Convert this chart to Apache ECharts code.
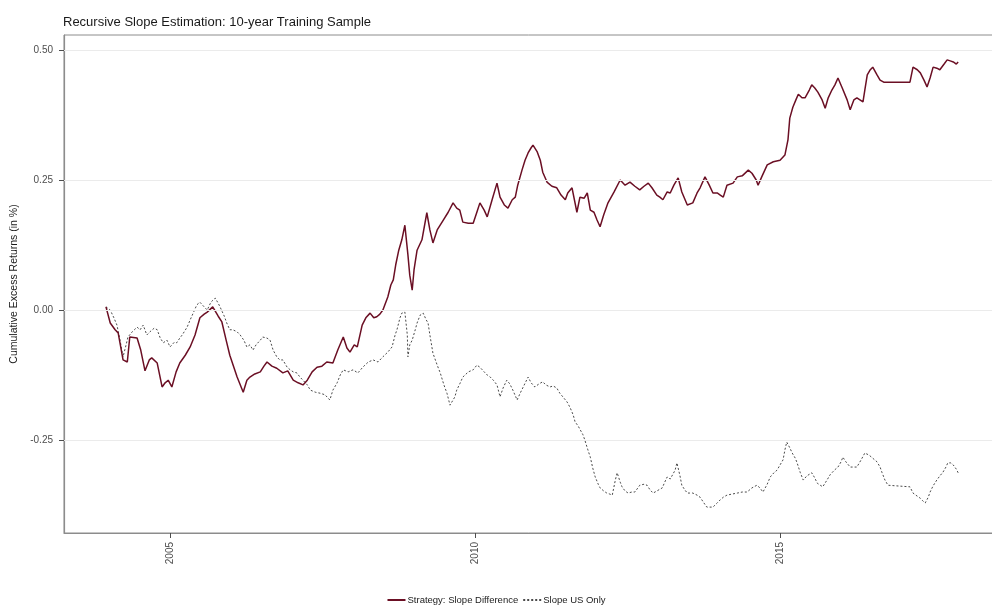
<!DOCTYPE html>
<html>
<head>
<meta charset="utf-8">
<script src="https://cdn.jsdelivr.net/npm/echarts@6/dist/echarts.min.js"></script>
<style>
  html, body { margin: 0; padding: 0; background: #ffffff; overflow: hidden; }
  #chart { width: 992px; height: 608px; }
</style>
</head>
<body>
<div id="chart"></div>
<script>
// Cumulative excess returns of the recursive slope strategies (decimal years, returns in %)
const strategyYears = [
  2003.95, 2004.02, 2004.10, 2004.15, 2004.23, 2004.30, 2004.34, 2004.46, 2004.52, 2004.59,
  2004.66, 2004.70, 2004.79, 2004.87, 2004.92, 2004.97, 2005.03, 2005.10, 2005.16, 2005.25,
  2005.33, 2005.41, 2005.49, 2005.56, 2005.61, 2005.70, 2005.79, 2005.85, 2005.92, 2005.98,
  2006.10, 2006.20, 2006.26, 2006.31, 2006.39, 2006.48, 2006.54, 2006.59, 2006.67, 2006.75,
  2006.85, 2006.93, 2007.02, 2007.10, 2007.18, 2007.25, 2007.33, 2007.41, 2007.49, 2007.57,
  2007.67, 2007.75, 2007.84, 2007.90, 2007.95, 2008.02, 2008.07, 2008.15, 2008.21, 2008.28,
  2008.34, 2008.39, 2008.44, 2008.49, 2008.57, 2008.62, 2008.66, 2008.70, 2008.75, 2008.80,
  2008.85, 2008.90, 2008.93, 2008.97, 2009.00, 2009.05, 2009.13, 2009.21, 2009.26, 2009.31,
  2009.38, 2009.48, 2009.56, 2009.64, 2009.70, 2009.75, 2009.80, 2009.89, 2009.97, 2010.03,
  2010.08, 2010.15, 2010.20, 2010.28, 2010.36, 2010.41, 2010.48, 2010.54, 2010.61, 2010.66,
  2010.70, 2010.77, 2010.82, 2010.87, 2010.92, 2010.95, 2011.02, 2011.07, 2011.11, 2011.18,
  2011.26, 2011.34, 2011.41, 2011.48, 2011.52, 2011.59, 2011.67, 2011.72, 2011.79, 2011.84,
  2011.89, 2011.95, 2012.00, 2012.05, 2012.11, 2012.18, 2012.28, 2012.38, 2012.46, 2012.54,
  2012.62, 2012.70, 2012.77, 2012.84, 2012.90, 2012.98, 2013.03, 2013.08, 2013.15, 2013.20,
  2013.26, 2013.33, 2013.39, 2013.48, 2013.57, 2013.64, 2013.69, 2013.77, 2013.84, 2013.90,
  2013.97, 2014.02, 2014.07, 2014.13, 2014.23, 2014.30, 2014.38, 2014.48, 2014.54, 2014.61,
  2014.64, 2014.70, 2014.79, 2014.89, 2015.00, 2015.08, 2015.13, 2015.16, 2015.21, 2015.26,
  2015.30, 2015.36, 2015.41, 2015.48, 2015.52, 2015.57, 2015.62, 2015.69, 2015.74, 2015.79,
  2015.85, 2015.90, 2015.95, 2016.02, 2016.10, 2016.15, 2016.21, 2016.26, 2016.31, 2016.36,
  2016.39, 2016.43, 2016.48, 2016.52, 2016.59, 2016.64, 2016.70, 2016.75, 2017.13, 2017.18,
  2017.25, 2017.30, 2017.36, 2017.41, 2017.46, 2017.51, 2017.57, 2017.62, 2017.69, 2017.74,
  2017.79, 2017.84, 2017.89, 2017.92
];
const strategyValues = [
  0.006, -0.025, -0.038, -0.044, -0.096, -0.100, -0.052, -0.054, -0.077, -0.117,
  -0.096, -0.092, -0.102, -0.148, -0.140, -0.135, -0.148, -0.119, -0.102, -0.087,
  -0.071, -0.048, -0.015, -0.008, -0.004, 0.006, -0.012, -0.023, -0.058, -0.087,
  -0.129, -0.158, -0.135, -0.129, -0.123, -0.119, -0.108, -0.100, -0.108, -0.112,
  -0.121, -0.117, -0.135, -0.140, -0.144, -0.135, -0.119, -0.110, -0.108, -0.100,
  -0.102, -0.077, -0.052, -0.073, -0.081, -0.067, -0.071, -0.029, -0.015, -0.006,
  -0.015, -0.013, -0.008, 0.000, 0.025, 0.048, 0.058, 0.087, 0.115, 0.135,
  0.163, 0.106, 0.067, 0.038, 0.077, 0.115, 0.135, 0.187, 0.154, 0.129,
  0.154, 0.173, 0.188, 0.206, 0.196, 0.192, 0.169, 0.167, 0.167, 0.188,
  0.206, 0.192, 0.179, 0.212, 0.244, 0.217, 0.202, 0.196, 0.212, 0.217,
  0.240, 0.269, 0.288, 0.302, 0.312, 0.317, 0.304, 0.288, 0.265, 0.246,
  0.238, 0.235, 0.221, 0.212, 0.225, 0.235, 0.188, 0.217, 0.215, 0.225,
  0.192, 0.188, 0.173, 0.160, 0.183, 0.206, 0.227, 0.250, 0.240, 0.246,
  0.238, 0.231, 0.238, 0.244, 0.235, 0.221, 0.217, 0.212, 0.227, 0.225,
  0.240, 0.254, 0.227, 0.202, 0.206, 0.225, 0.235, 0.256, 0.240, 0.225,
  0.225, 0.221, 0.217, 0.240, 0.244, 0.256, 0.258, 0.269, 0.263, 0.250,
  0.240, 0.256, 0.279, 0.285, 0.288, 0.298, 0.327, 0.369, 0.390, 0.404,
  0.415, 0.408, 0.408, 0.423, 0.433, 0.427, 0.419, 0.404, 0.388, 0.408,
  0.423, 0.433, 0.446, 0.427, 0.404, 0.385, 0.404, 0.408, 0.404, 0.400,
  0.423, 0.452, 0.462, 0.467, 0.452, 0.442, 0.438, 0.438, 0.438, 0.467,
  0.462, 0.456, 0.442, 0.429, 0.446, 0.467, 0.465, 0.462, 0.473, 0.481,
  0.479, 0.477, 0.473, 0.477
];

const usOnlyYears = [
  2003.95, 2004.02, 2004.08, 2004.13, 2004.18, 2004.23, 2004.28, 2004.31, 2004.38, 2004.46,
  2004.51, 2004.56, 2004.62, 2004.67, 2004.74, 2004.79, 2004.84, 2004.89, 2004.95, 2005.00,
  2005.07, 2005.11, 2005.16, 2005.20, 2005.28, 2005.33, 2005.38, 2005.44, 2005.49, 2005.56,
  2005.61, 2005.67, 2005.74, 2005.79, 2005.82, 2005.89, 2005.93, 2005.98, 2006.03, 2006.10,
  2006.15, 2006.21, 2006.26, 2006.31, 2006.36, 2006.41, 2006.48, 2006.52, 2006.59, 2006.64,
  2006.69, 2006.75, 2006.80, 2006.85, 2006.92, 2006.97, 2007.02, 2007.08, 2007.13, 2007.18,
  2007.25, 2007.30, 2007.38, 2007.46, 2007.54, 2007.62, 2007.67, 2007.74, 2007.79, 2007.84,
  2007.92, 2008.00, 2008.08, 2008.16, 2008.25, 2008.33, 2008.41, 2008.49, 2008.57, 2008.64,
  2008.69, 2008.72, 2008.77, 2008.80, 2008.85, 2008.89, 2008.90, 2008.93, 2008.97, 2009.02,
  2009.05, 2009.10, 2009.15, 2009.20, 2009.23, 2009.26, 2009.31, 2009.38, 2009.43, 2009.49,
  2009.54, 2009.59, 2009.62, 2009.67, 2009.70, 2009.75, 2009.80, 2009.89, 2009.97, 2010.03,
  2010.08, 2010.15, 2010.20, 2010.25, 2010.30, 2010.36, 2010.41, 2010.46, 2010.52, 2010.57,
  2010.62, 2010.69, 2010.74, 2010.79, 2010.87, 2010.92, 2010.98, 2011.05, 2011.11, 2011.16,
  2011.23, 2011.28, 2011.34, 2011.39, 2011.44, 2011.51, 2011.56, 2011.61, 2011.64, 2011.69,
  2011.72, 2011.77, 2011.80, 2011.85, 2011.89, 2011.93, 2011.97, 2012.02, 2012.05, 2012.11,
  2012.16, 2012.21, 2012.25, 2012.30, 2012.33, 2012.38, 2012.41, 2012.46, 2012.51, 2012.57,
  2012.62, 2012.67, 2012.70, 2012.77, 2012.82, 2012.87, 2012.92, 2012.98, 2013.07, 2013.11,
  2013.15, 2013.20, 2013.23, 2013.28, 2013.31, 2013.36, 2013.39, 2013.44, 2013.48, 2013.52,
  2013.57, 2013.64, 2013.69, 2013.74, 2013.80, 2013.85, 2013.90, 2013.97, 2014.02, 2014.07,
  2014.13, 2014.21, 2014.30, 2014.38, 2014.46, 2014.54, 2014.62, 2014.67, 2014.72, 2014.79,
  2014.84, 2014.90, 2014.95, 2015.00, 2015.05, 2015.08, 2015.11, 2015.16, 2015.20, 2015.25,
  2015.28, 2015.33, 2015.38, 2015.44, 2015.52, 2015.57, 2015.61, 2015.66, 2015.70, 2015.77,
  2015.82, 2015.89, 2015.95, 2016.00, 2016.03, 2016.08, 2016.15, 2016.20, 2016.26, 2016.33,
  2016.39, 2016.46, 2016.52, 2016.59, 2016.64, 2016.67, 2016.72, 2016.77, 2016.80, 2017.13,
  2017.18, 2017.25, 2017.30, 2017.34, 2017.38, 2017.43, 2017.46, 2017.51, 2017.57, 2017.62,
  2017.67, 2017.72, 2017.75, 2017.80, 2017.84, 2017.89, 2017.92
];
const usOnlyValues = [
  0.006, 0.000, -0.015, -0.029, -0.058, -0.090, -0.067, -0.052, -0.042, -0.033,
  -0.038, -0.029, -0.048, -0.042, -0.035, -0.038, -0.054, -0.063, -0.058, -0.071,
  -0.062, -0.063, -0.054, -0.048, -0.033, -0.019, -0.006, 0.010, 0.015, 0.006,
  0.000, 0.015, 0.023, 0.013, 0.006, -0.012, -0.025, -0.038, -0.038, -0.042,
  -0.048, -0.058, -0.071, -0.067, -0.077, -0.067, -0.058, -0.052, -0.054, -0.058,
  -0.077, -0.090, -0.096, -0.096, -0.110, -0.115, -0.119, -0.121, -0.129, -0.135,
  -0.144, -0.154, -0.158, -0.160, -0.163, -0.173, -0.154, -0.140, -0.125, -0.115,
  -0.119, -0.115, -0.121, -0.110, -0.100, -0.096, -0.100, -0.090, -0.081, -0.071,
  -0.048, -0.038, -0.015, -0.006, -0.004, -0.048, -0.090, -0.067, -0.058, -0.038,
  -0.025, -0.010, -0.006, -0.019, -0.025, -0.048, -0.083, -0.106, -0.121, -0.144,
  -0.160, -0.183, -0.183, -0.167, -0.154, -0.142, -0.129, -0.119, -0.115, -0.106,
  -0.110, -0.119, -0.125, -0.129, -0.135, -0.144, -0.167, -0.150, -0.135, -0.142,
  -0.154, -0.173, -0.160, -0.148, -0.129, -0.140, -0.148, -0.142, -0.138, -0.144,
  -0.148, -0.146, -0.150, -0.160, -0.167, -0.177, -0.188, -0.202, -0.215, -0.223,
  -0.225, -0.240, -0.250, -0.269, -0.283, -0.304, -0.321, -0.335, -0.342, -0.348,
  -0.352, -0.354, -0.356, -0.327, -0.313, -0.331, -0.340, -0.348, -0.352, -0.350,
  -0.350, -0.342, -0.337, -0.335, -0.337, -0.346, -0.352, -0.348, -0.342, -0.331,
  -0.321, -0.325, -0.327, -0.308, -0.294, -0.319, -0.337, -0.346, -0.352, -0.352,
  -0.352, -0.356, -0.360, -0.369, -0.379, -0.379, -0.379, -0.371, -0.365, -0.360,
  -0.356, -0.354, -0.352, -0.350, -0.350, -0.342, -0.337, -0.342, -0.350, -0.335,
  -0.321, -0.313, -0.308, -0.298, -0.288, -0.269, -0.254, -0.265, -0.275, -0.285,
  -0.294, -0.312, -0.327, -0.319, -0.313, -0.323, -0.333, -0.337, -0.340, -0.327,
  -0.317, -0.308, -0.302, -0.292, -0.283, -0.292, -0.302, -0.302, -0.302, -0.288,
  -0.275, -0.279, -0.285, -0.292, -0.302, -0.312, -0.327, -0.337, -0.340, -0.340,
  -0.352, -0.358, -0.362, -0.367, -0.371, -0.360, -0.350, -0.338, -0.327, -0.319,
  -0.312, -0.302, -0.294, -0.294, -0.298, -0.306, -0.313
];

// Axis breaks
const yearTicks = [2005, 2010, 2015];
const returnTicks = [-0.25, 0, 0.25, 0.5];

const seriesNames = ['Strategy: Slope Difference', 'Slope US Only'];

const pairs = (xs, ys) => xs.map((x, i) => [x, ys[i]]);

const chart = echarts.init(document.getElementById('chart'), null, { renderer: 'canvas' });

const labelFont = { fontFamily: 'Liberation Sans, Arial, sans-serif', fontSize: 10, color: '#4d4d4d' };

chart.setOption({
  animation: false,
  backgroundColor: '#ffffff',
  title: {
    text: 'Recursive Slope Estimation: 10-year Training Sample',
    left: 58,
    top: 11,
    textStyle: { fontFamily: 'Liberation Sans, Arial, sans-serif', fontSize: 13, fontWeight: 'normal', color: '#1a1a1a' }
  },
  legend: {
    data: seriesNames,
    bottom: -2,
    left: 'center',
    itemWidth: 18,
    itemHeight: 8,
    itemGap: 4,
    itemStyle: { opacity: 0 },
    textStyle: { fontFamily: 'Liberation Sans, Arial, sans-serif', fontSize: 9.5, color: '#1a1a1a', padding: [0, 0, 0, -3] }
  },
  grid: {
    left: 64,
    right: -8,
    top: 35,
    bottom: 75,
    outerBoundsMode: 'none',
    containLabel: false,
    show: true,
    borderColor: '#8c8c8c',
    borderWidth: 1,
    backgroundColor: 'transparent'
  },
  xAxis: {
    type: 'value',
    min: 2003.262,
    max: 2018.606,
    axisLine: { show: true, onZero: false, lineStyle: { color: '#8c8c8c', width: 1.2 } },
    axisTick: { show: true, customValues: yearTicks, length: 5, lineStyle: { color: '#4d4d4d' } },
    axisLabel: Object.assign({ customValues: yearTicks, rotate: 90, margin: 9, formatter: v => String(v) }, labelFont),
    splitLine: { show: false }
  },
  yAxis: {
    type: 'value',
    min: -0.4288,
    max: 0.5288,
    name: 'Cumulative Excess Returns (in %)',
    nameLocation: 'middle',
    nameGap: 42,
    nameTextStyle: { fontFamily: 'Liberation Sans, Arial, sans-serif', fontSize: 10.5, color: '#1a1a1a' },
    axisLine: { show: true, onZero: false, lineStyle: { color: '#8c8c8c', width: 1.2 } },
    axisTick: { show: true, customValues: returnTicks, length: 5, lineStyle: { color: '#4d4d4d' } },
    axisLabel: Object.assign({ customValues: returnTicks, margin: 11, formatter: v => v.toFixed(2) }, labelFont),
    splitLine: { show: false }
  },
  series: [
    {
      // horizontal reference lines at each break
      name: 'grid',
      type: 'line',
      data: [],
      silent: true,
      z: 1,
      markLine: {
        silent: true,
        symbol: 'none',
        label: { show: false },
        animation: false,
        lineStyle: { color: '#ebebeb', width: 1.2, type: 'solid' },
        data: returnTicks.map(v => ({ yAxis: v }))
      }
    },
    {
      name: seriesNames[1],
      type: 'line',
      data: pairs(usOnlyYears, usOnlyValues),
      showSymbol: false,
      symbol: 'none',
      z: 3,
      lineStyle: { color: '#4a4a4a', width: 1, type: [2, 2] },
      itemStyle: { color: '#4a4a4a' }
    },
    {
      name: seriesNames[0],
      type: 'line',
      data: pairs(strategyYears, strategyValues),
      showSymbol: false,
      symbol: 'none',
      z: 4,
      lineStyle: { color: '#6b0f24', width: 1.5 },
      itemStyle: { color: '#1a1a1a' }
    }
  ]
});
</script>
</body>
</html>
